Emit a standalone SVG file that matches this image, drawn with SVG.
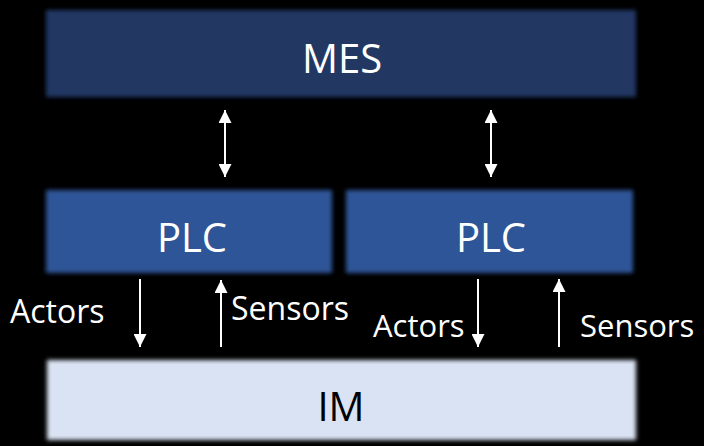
<svg xmlns="http://www.w3.org/2000/svg" width="704" height="446" viewBox="0 0 704 446">
  <defs>
    <filter id="soft" x="-5%" y="-10%" width="110%" height="120%">
      <feGaussianBlur stdDeviation="2.2"/>
    </filter>
    <marker id="ah" viewBox="0 0 10 10" refX="10" refY="5" markerWidth="13" markerHeight="13" markerUnits="userSpaceOnUse" orient="auto-start-reverse">
      <path d="M0,0 L10,5 L0,10 z" fill="#ffffff"/>
    </marker>
  </defs>
  <style>
    .lbl { font-family: "Open Sans", "Noto Sans", sans-serif; fill: #ffffff; }
    .big { font-size: 40px; text-anchor: middle; }
    .small { font-size: 32px; }
    .small2 { font-size: 31px; }
    .conn line { stroke: #ffffff; stroke-width: 2; }
  </style>
  <rect width="704" height="446" fill="#000000"/>
  <g id="mes">
    <rect x="46" y="10" width="590" height="87" fill="#203864" filter="url(#soft)"/>
    <text class="lbl big" x="342" y="73">MES</text>
  </g>
  <g id="plc1">
    <rect x="46" y="190" width="286" height="83" fill="#2F5597" filter="url(#soft)"/>
    <text class="lbl big" x="192" y="252">PLC</text>
  </g>
  <g id="plc2">
    <rect x="346" y="190" width="287" height="83" fill="#2F5597" filter="url(#soft)"/>
    <text class="lbl big" x="491" y="252">PLC</text>
  </g>
  <g id="im">
    <rect x="47" y="360" width="589" height="80" fill="#DAE3F3" filter="url(#soft)"/>
    <text class="lbl big" x="341" y="421" style="fill:#000000">IM</text>
  </g>
  <g id="connectors" class="conn">
    <line x1="225" y1="110" x2="225" y2="177" marker-start="url(#ah)" marker-end="url(#ah)"/>
    <line x1="491" y1="110" x2="491" y2="177" marker-start="url(#ah)" marker-end="url(#ah)"/>
    <line x1="140" y1="279" x2="140" y2="347" marker-end="url(#ah)"/>
    <line x1="221" y1="347" x2="221" y2="280" marker-end="url(#ah)"/>
    <line x1="478" y1="279" x2="478" y2="347" marker-end="url(#ah)"/>
    <line x1="559" y1="347" x2="559" y2="279" marker-end="url(#ah)"/>
  </g>
  <g id="labels">
    <text class="lbl small" x="10" y="323">Actors</text>
    <text class="lbl small" x="231" y="320">Sensors</text>
    <text class="lbl small2" x="373" y="337">Actors</text>
    <text class="lbl small2" x="580" y="337">Sensors</text>
  </g>
</svg>
